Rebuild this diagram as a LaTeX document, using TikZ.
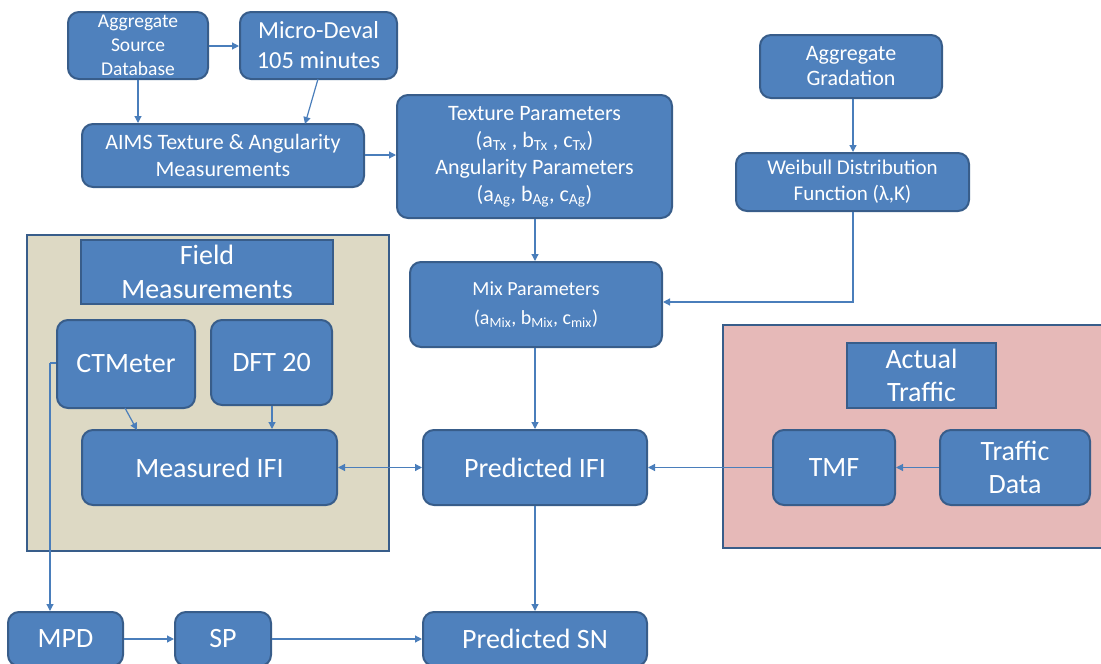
\documentclass[tikz,border=0pt]{standalone}
\usepackage{fontspec}
\setmainfont{Carlito}
\usetikzlibrary{arrows.meta}
\definecolor{boxblue}{HTML}{4F81BD}
\definecolor{boxedge}{HTML}{385D8A}
\definecolor{linkblue}{HTML}{4A7EBB}
\definecolor{beige}{HTML}{DDD9C4}
\definecolor{pink}{HTML}{E6B9B8}
\tikzset{
  blk/.style={draw=boxedge, line width=2pt, fill=boxblue, text=white, rounded corners=11pt,
    align=center, inner sep=0pt},
  sq/.style={draw=boxedge, line width=2pt, fill=boxblue, text=white, align=center, inner sep=0pt},
  grp/.style={draw=boxedge, line width=2pt},
  link/.style={draw=linkblue, line width=1.2pt, -{Triangle[length=7pt,width=7pt]}},
  dlink/.style={draw=linkblue, line width=1.2pt, {Triangle[length=7pt,width=7pt]}-{Triangle[length=7pt,width=7pt]}},
  plain/.style={draw=linkblue, line width=1.2pt},
}
\newcommand{\bx}[8]{\node[#1, minimum width=#4pt, minimum height=#5pt, font=\fontsize{#6}{#7}\selectfont] (#2) at (#3) {#8};}
\begin{document}
\begin{tikzpicture}[x=1pt,y=-1pt]
\useasboundingbox (0,0) rectangle (1101,664);
\clip (0,0) rectangle (1101,664);
% groups
\draw[grp, fill=beige] (27,235) rectangle (389,551);
\draw[grp, fill=pink] (723,325) rectangle (1106,548);
% nodes
\bx{blk}{asd}{138,45.5}{140}{67}{19.5}{24}{Aggregate\\Source\\Database}
\bx{blk}{md}{318.5,45.5}{157}{67}{24.5}{30}{Micro-Deval\\105 minutes}
\bx{blk}{aims}{223,155.5}{282}{63}{22}{27}{AIMS Texture \& Angularity\\Measurements}
\bx{blk}{tex}{534.5,156.5}{275}{123}{22}{27}{\rule{0pt}{10pt}Texture Parameters\\(a\textsubscript{Tx} , b\textsubscript{Tx} , c\textsubscript{Tx})\\Angularity Parameters\\(a\textsubscript{Ag}, b\textsubscript{Ag}, c\textsubscript{Ag})}
\bx{blk}{ag}{851,66.5}{182}{63}{22}{25}{Aggregate\\Gradation}
\bx{blk}{wb}{852.5,182}{233}{58}{21}{26}{Weibull Distribution\\Function (λ,K)}
\bx{sq}{fm}{207,272}{252}{64}{28}{34}{Field\\Measurements}
\bx{blk}{ct}{126,364}{138}{88}{28}{32}{CTMeter}
\bx{blk}{dft}{271.5,362.5}{121}{85}{28}{32}{DFT 20}
\bx{blk}{mifi}{209.5,467.5}{255}{75}{28}{32}{Measured IFI}
\bx{blk}{mix}{536,304.5}{252}{85}{20}{29}{\rule{0pt}{8pt}Mix Parameters\\(a\textsubscript{Mix}, b\textsubscript{Mix}, c\textsubscript{mix})}
\bx{blk}{pifi}{535,467.5}{224}{75}{28}{32}{Predicted IFI}
\bx{sq}{at}{921.5,375.5}{149}{65}{28}{33}{Actual\\Traffic}
\bx{blk}{tmf}{834,467.5}{122}{75}{28}{32}{TMF}
\bx{blk}{td}{1015,467.5}{150}{75}{28}{33}{Traffic\\Data}
\bx{blk}{mpd}{65.5,639}{115}{54}{28}{32}{MPD}
\bx{blk}{sp}{223,639}{96}{54}{28}{32}{SP}
\bx{blk}{psn}{535,639}{224}{54}{28}{32}{Predicted SN}
% connectors
\draw[link] (asd.east |- 0,46) -- (md.west |- 0,46);
\draw[link] (asd.south) -- (asd.south |- aims.north);
\draw[link] (318,79) -- (305,124);
\draw[link] (aims.east |- 0,155) -- (tex.west |- 0,155);
\draw[link] (tex.south -| 535,0) -- (mix.north -| 535,0);
\draw[link] (ag.south -| 853,0) -- (wb.north -| 853,0);
\draw[link] (wb.south -| 853,0) |- (mix.east |- 0,302);
\draw[link] (125,408) -- (137,430);
\draw[link] (dft.south -| 272,0) -- (mifi.north -| 272,0);
\draw[dlink] (mifi.east) -- (pifi.west);
\draw[link] (mix.south -| 535,0) -- (pifi.north -| 535,0);
\draw[link] (tmf.west) -- (pifi.east);
\draw[link] (td.west) -- (tmf.east);
\draw[link] (pifi.south -| 535,0) -- (psn.north -| 535,0);
\coordinate (ctl) at (50,363);
\draw[plain] (ct.west |- ctl) -- (ctl);
\draw[link] (ctl) -- (mpd.north -| ctl);
\draw[link] (mpd.east) -- (sp.west);
\draw[link] (sp.east) -- (psn.west);
\end{tikzpicture}
\end{document}
